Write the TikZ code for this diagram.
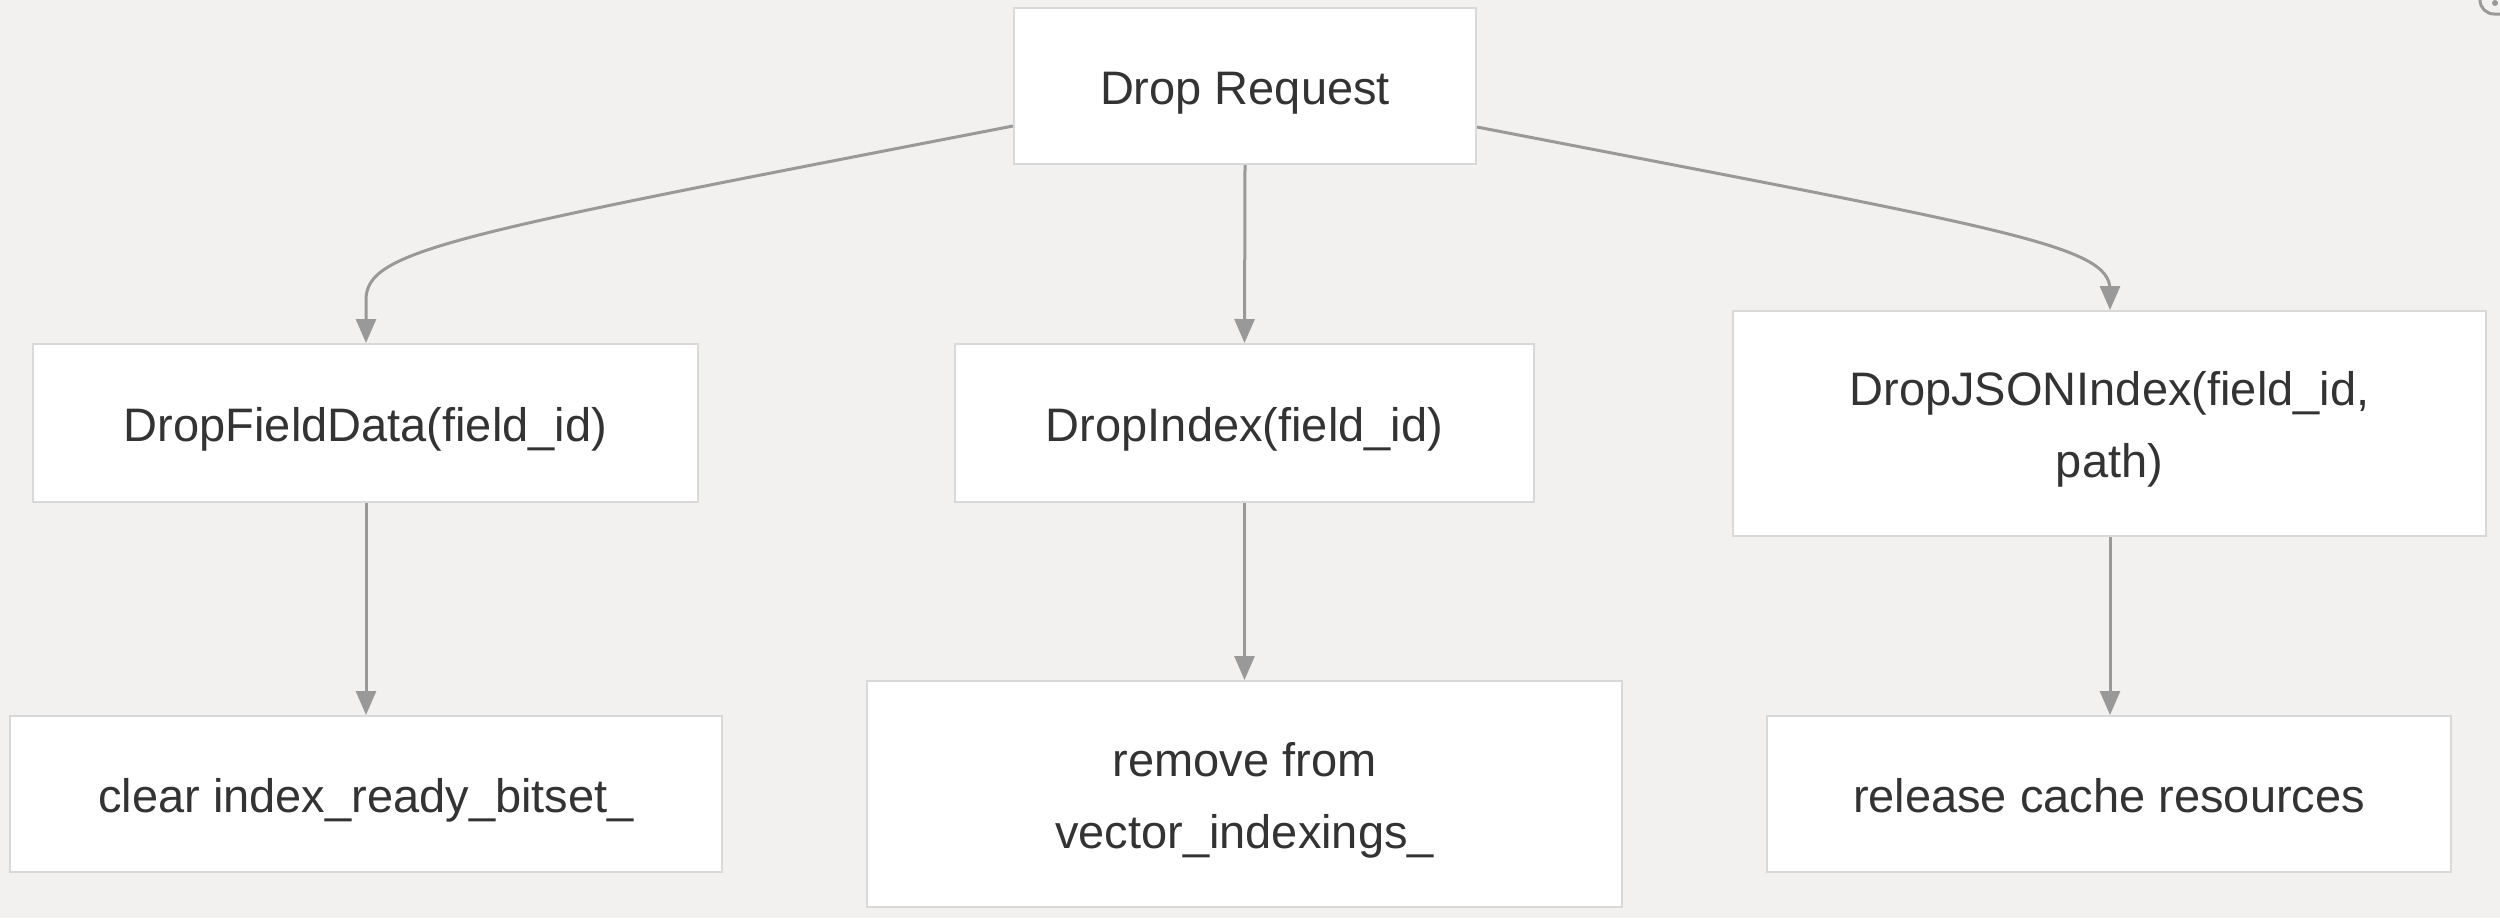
\documentclass[tikz,border=0pt]{standalone}
\usepackage{fontspec}
\setmainfont{Liberation Sans}
\usetikzlibrary{arrows.meta}
\definecolor{bgc}{HTML}{F2F1EF}
\definecolor{boxline}{HTML}{D9D9D9}
\definecolor{edgec}{HTML}{999999}
\definecolor{txt}{HTML}{333333}
\newcommand\boxtext[1]{\raisebox{-1.8pt}[\height][\depth]{\begin{tabular}{@{}c@{}}#1\end{tabular}}}
\tikzset{
  box/.style={draw=boxline, line width=1pt, fill=white, text=txt, align=center,
    inner sep=0pt, font=\fontsize{23.5}{36}\selectfont},
  conn/.style={draw=edgec, line width=1.5pt, -{Triangle[length=12pt,width=10pt]}},
}
\begin{document}
\begin{tikzpicture}[x=0.5pt,y=-0.5pt]
\fill[bgc] (0,0) rectangle (2500,918);
\useasboundingbox (0,0) rectangle (2500,918);
% corner icon (partly cut off)
\begin{scope}
\clip (0,0) rectangle (2500,918);
\draw[edgec, line width=1.5pt, rounded corners=7pt] (2480,-20) rectangle (2520,14);
\fill[edgec] (2495,3) circle (1.5pt);
\end{scope}

\node[box, minimum width=231pt, minimum height=78pt] (req) at (1245,86) {\boxtext{Drop Request}};
\node[box, minimum width=332.5pt, minimum height=79pt] (dfd) at (365.5,423) {\boxtext{DropFieldData(field\_id)}};
\node[box, minimum width=289.5pt, minimum height=79pt] (di) at (1244.5,423) {\boxtext{DropIndex(field\_id)}};
\node[box, minimum width=376.5pt, minimum height=112.5pt] (dj) at (2109.5,423.5) {\boxtext{DropJSONIndex(field\_id,\\path)}};
\node[box, minimum width=356pt, minimum height=78pt] (clr) at (366,794) {\boxtext{clear index\_ready\_bitset\_}};
\node[box, minimum width=377.5pt, minimum height=113pt] (rem) at (1244.5,794) {\boxtext{remove from\\vector\_indexings\_}};
\node[box, minimum width=342pt, minimum height=78pt] (rel) at (2109,794) {\boxtext{release cache resources}};

\coordinate (lbend) at (366,300);
\coordinate (rbend) at (2110,290);
\draw[conn] (req.west |- 0,126) .. controls (450,235) and (366,250) .. (lbend) -- (dfd.north -| lbend);
\draw[conn] (req.south) -- (di.north);
\draw[conn] (req.east |- 0,127) .. controls (2010,230) and (2110,245) .. (rbend) -- (dj.north -| rbend);
\draw[conn] (dfd.south -| lbend) -- (clr.north -| lbend);
\draw[conn] (di.south) -- (di.south |- rem.north);
\draw[conn] (dj.south -| rbend) -- (rel.north -| rbend);
\end{tikzpicture}
\end{document}
